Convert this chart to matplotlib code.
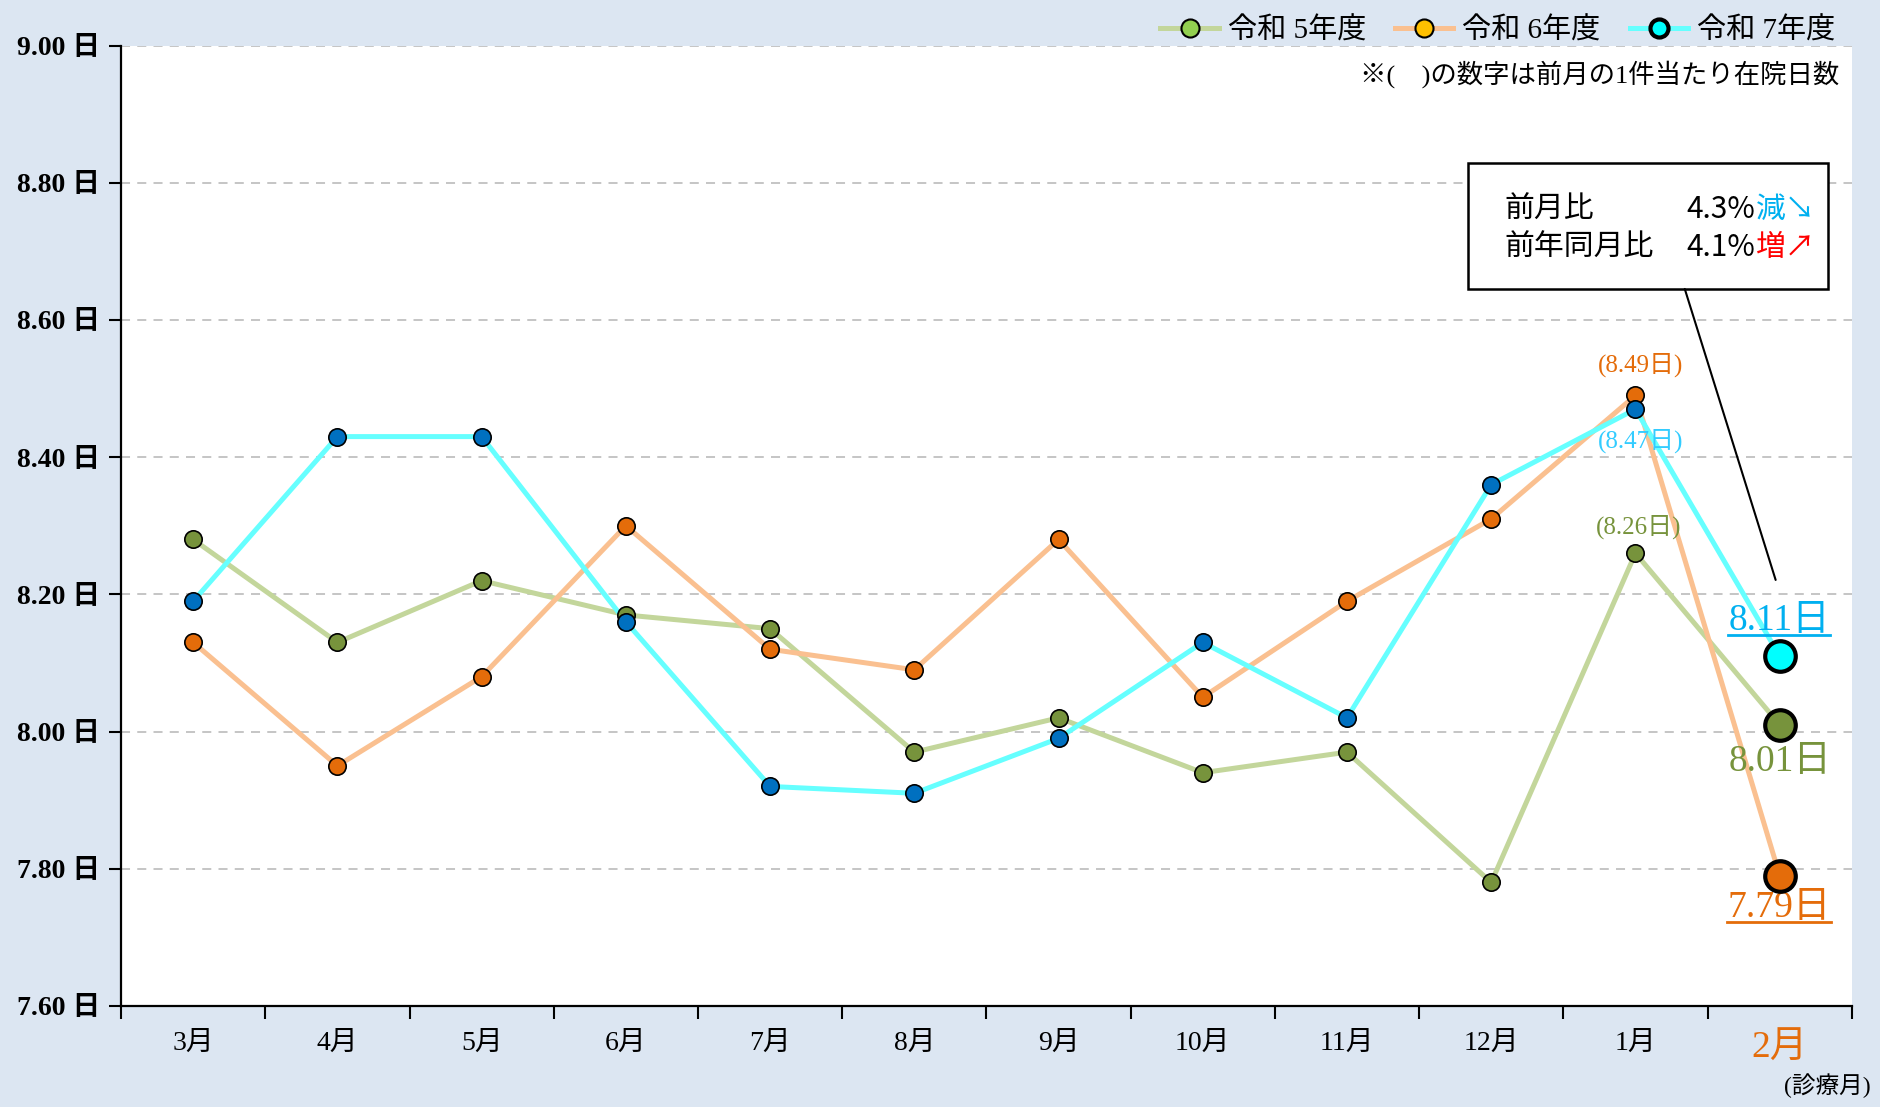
import numpy as np
import matplotlib
matplotlib.use("Agg")
import matplotlib.pyplot as plt
from matplotlib.lines import Line2D
from matplotlib.patches import Rectangle

SERIF = ["Liberation Serif", "Noto Sans CJK JP", "DejaVu Sans"]
SANS = ["Noto Sans CJK JP", "DejaVu Sans"]
plt.rcParams["font.family"] = SERIF

months = ["3月", "4月", "5月", "6月", "7月", "8月", "9月", "10月", "11月", "12月", "1月", "2月"]
r5 = [8.28, 8.13, 8.22, 8.17, 8.15, 7.97, 8.02, 7.94, 7.97, 7.78, 8.26, 8.01]
r6 = [8.13, 7.95, 8.08, 8.30, 8.12, 8.09, 8.28, 8.05, 8.19, 8.31, 8.49, 7.79]
r7 = [8.19, 8.43, 8.43, 8.16, 7.92, 7.91, 7.99, 8.13, 8.02, 8.36, 8.47, 8.11]
yticks = [7.60, 7.80, 8.00, 8.20, 8.40, 8.60, 8.80, 9.00]
mom_ratio = "4.3%"
yoy_ratio = "4.1%"

# (label, values, line colour, marker colour, last marker colour, legend marker colour)
series = [
    ("令和 5年度", r5, "#C3D69B", "#77933C", "#77933C", "#92D050"),
    ("令和 6年度", r6, "#FAC090", "#E46C0A", "#E46C0A", "#FFC000"),
    ("令和 7年度", r7, "#66FFFF", "#0070C0", "#00FFFF", "#00FFFF"),
]

bg = "#DCE6F2"
fig = plt.figure(figsize=(18.8, 11.07), dpi=100, facecolor=bg)
ax = fig.add_axes([0.0644, 0.0913, 0.9206, 0.8675])
ax.set_facecolor("white")

x = np.arange(len(months))
handles = []
for label, vals, lc, mc, lastc, legc in series:
    ax.plot(x, vals, color=lc, lw=3.6, zorder=2)
    ax.plot(x[:-1], vals[:-1], ls="none", marker="o", ms=12.5,
            mfc=mc, mec="black", mew=1.2, zorder=3)
    ax.plot(x[-1:], vals[-1:], ls="none", marker="o", ms=22,
            mfc=lastc, mec="black", mew=3, zorder=4)
    legw = 3 if label.endswith("7年度") else 1.5
    handles.append(Line2D([0], [0], color=lc, lw=3.6, marker="o", ms=13,
                          mfc=legc, mec="black", mew=legw, label=label))

ax.set_xlim(-0.5, len(months) - 0.5)
ax.set_ylim(yticks[0], yticks[-1])
ax.set_yticks(yticks)
ax.set_yticklabels([f"{v:.2f} 日" for v in yticks], fontsize=20, fontweight="bold")
ax.set_xticks(x)
ax.set_xticks(np.arange(-0.5, len(months)), minor=True)
ax.set_xticklabels(months, fontsize=20)
lab = ax.get_xticklabels()[-1]
lab.set_color("#E46C0A")
lab.set_fontsize(27)
ax.tick_params(axis="x", which="major", length=0, pad=18)
ax.tick_params(axis="x", which="minor", length=9, width=1.5, direction="out")
ax.tick_params(axis="y", length=9, width=1.5, direction="out", pad=6)
ax.grid(axis="y", color="#C0C0C0", lw=1.3, ls=(0, (5, 4)))
for s in ["top", "right"]:
    ax.spines[s].set_visible(False)
for s in ["left", "bottom"]:
    ax.spines[s].set_linewidth(1.6)

# previous month labels
ax.annotate(f"({r6[-2]:.2f}日)", (x[-2], r6[-2]), xytext=(4, 13), textcoords="offset points",
            ha="center", va="bottom", fontsize=18, color="#E46C0A")
ax.annotate(f"({r7[-2]:.2f}日)", (x[-2], r7[-2]), xytext=(4, -14), textcoords="offset points",
            ha="center", va="top", fontsize=18, color="#33CCFF")
ax.annotate(f"({r5[-2]:.2f}日)", (x[-2], r5[-2]), xytext=(2, 10), textcoords="offset points",
            ha="center", va="bottom", fontsize=18, color="#77933C")

# current month labels
t7 = ax.annotate(f"{r7[-1]:.2f}日", (x[-1], r7[-1]), xytext=(0, 13), textcoords="offset points",
                 ha="center", va="bottom", fontsize=27, color="#00B0F0")
t5 = ax.annotate(f"{r5[-1]:.2f}日", (x[-1], r5[-1]), xytext=(0, -14), textcoords="offset points",
                 ha="center", va="top", fontsize=27, color="#77933C")
t6 = ax.annotate(f"{r6[-1]:.2f}日", (x[-1], r6[-1]), xytext=(0, -11), textcoords="offset points",
                 ha="center", va="top", fontsize=27, color="#E46C0A")

# note
ax.text(0.993, 0.985, "※(　)の数字は前月の1件当たり在院日数", transform=ax.transAxes,
        ha="right", va="top", fontsize=19, family=SERIF)

# comparison box
ax.add_patch(Rectangle((0.778, 0.7466), 0.208, 0.1314, transform=ax.transAxes,
                       facecolor="white", edgecolor="black", lw=1.8, zorder=5))
ax.text(0.7995, 0.829, "前月比", transform=ax.transAxes, ha="left", va="center",
        fontsize=21.5, family=SANS, zorder=6)
ax.text(0.7995, 0.790, "前年同月比", transform=ax.transAxes, ha="left", va="center",
        fontsize=21.5, family=SANS, zorder=6)
v1 = ax.text(0.9047, 0.829, mom_ratio, transform=ax.transAxes, ha="left", va="center",
             fontsize=21.5, family=SANS, zorder=6)
v2 = ax.text(0.9047, 0.790, yoy_ratio, transform=ax.transAxes, ha="left", va="center",
             fontsize=21.5, family=SANS, zorder=6)
ax.annotate("減↘", xy=(1, 0.5), xycoords=v1, ha="left", va="center",
            fontsize=21.5, family=SANS, color="#00B0F0", zorder=6)
ax.annotate("増↗", xy=(1, 0.5), xycoords=v2, ha="left", va="center",
            fontsize=21.5, family=SANS, color="#FF0000", zorder=6)
ax.annotate("", xy=(0.956, 0.4436), xycoords="axes fraction",
            xytext=(0.9035, 0.7466), textcoords="axes fraction",
            arrowprops=dict(arrowstyle="-", color="black", lw=1.5, shrinkA=0, shrinkB=0),
            zorder=5)

fig.legend(handles=handles, loc="upper right", bbox_to_anchor=(0.99, 1.008), ncol=3,
           frameon=False, handlelength=2.0, handletextpad=0.3,
           columnspacing=1.0, prop={"family": SERIF, "size": 21})

fig.text(0.995, 0.008, "(診療月)", ha="right", va="bottom", fontsize=17)

# underline the current-month labels
fig.canvas.draw()
inv = fig.transFigure.inverted()
for t in (t7, t6):
    bb = t.get_window_extent()
    (x0, y0), (x1, _) = inv.transform([(bb.x0 - 1, bb.y0 + 3), (bb.x1, bb.y0)])
    fig.add_artist(Line2D([x0, x1], [y0, y0], color=t.get_color(), lw=2))

fig.savefig("out.png", dpi=100, facecolor=bg)
